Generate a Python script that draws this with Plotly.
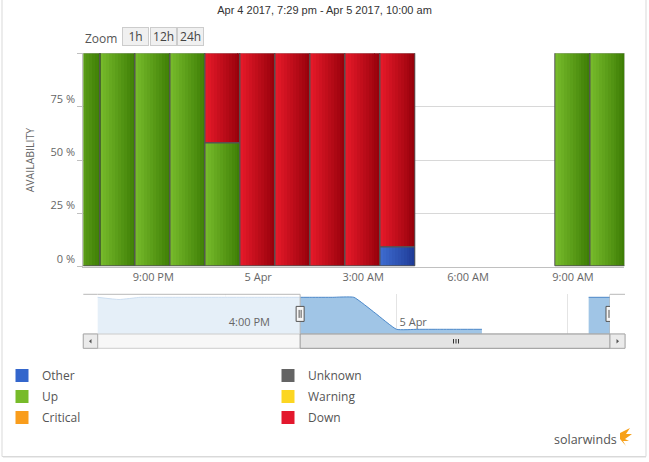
import plotly.graph_objects as go

W, H = 649, 462


def px(x):
    return x / W


def py(y):
    return 1 - y / H


# ---------------- data ----------------
title_text = "Apr 4 2017, 7:29 pm - Apr 5 2017, 10:00 am"

hours = [
    "2017-04-04 19:00", "2017-04-04 20:00", "2017-04-04 21:00", "2017-04-04 22:00",
    "2017-04-04 23:00", "2017-04-05 00:00", "2017-04-05 01:00", "2017-04-05 02:00",
    "2017-04-05 03:00", "2017-04-05 04:00", "2017-04-05 05:00", "2017-04-05 06:00",
    "2017-04-05 07:00", "2017-04-05 08:00", "2017-04-05 09:00", "2017-04-05 10:00",
]
other = [None, None, None, None, None, None, None, None, None, 9, None, None, None, None, None, None]
up = [100, 100, 100, 100, 58, None, None, None, None, None, None, None, None, None, 100, 100]
down = [None, None, None, None, 42, 100, 100, 100, 100, 91, None, None, None, None, None, None]

x_tickvals = ["2017-04-04 21:00", "2017-04-05 00:00", "2017-04-05 03:00",
              "2017-04-05 06:00", "2017-04-05 09:00"]
x_ticktext = ["9:00 PM", "5 Apr", "3:00 AM", "6:00 AM", "9:00 AM"]
y_tickvals = [0, 25, 50, 75, 100]
y_ticktext = ["0 %", "25 %", "50 %", "75 %", ""]
x_range = ["2017-04-04 19:00", "2017-04-05 10:28"]

# navigator (overview) series
nav_times = [
    "2017-04-04 10:00", "2017-04-04 11:00", "2017-04-04 12:00", "2017-04-04 13:00",
    "2017-04-04 14:00", "2017-04-04 15:00", "2017-04-04 16:00", "2017-04-04 17:00",
    "2017-04-04 18:00", "2017-04-04 19:00", "2017-04-04 20:00", "2017-04-04 21:00",
    "2017-04-04 22:00", "2017-04-04 23:00", "2017-04-05 00:00", "2017-04-05 01:00",
    "2017-04-05 02:00", "2017-04-05 03:00", "2017-04-05 04:00", "2017-04-05 05:00",
    "2017-04-05 06:00", "2017-04-05 07:00", "2017-04-05 08:00", "2017-04-05 09:00",
    "2017-04-05 10:00",
]
nav_values = [100, 94, 100, 100, 100, 100, 100, 100, 100, 100, 100, 100, 100, 57,
              12.8, 12.8, 12.8, 12.8, 12.8, None, None, None, None, 100, 100]
nav_range = ["2017-04-04 10:00", "2017-04-05 10:00"]
nav_ymax = 108.2
nav_tickvals = ["2017-04-04 16:00", "2017-04-05 00:00", "2017-04-05 08:00"]
nav_ticktext = ["4:00 PM", "5 Apr", "8:00 AM"]
sel_start, sel_end = "2017-04-04 19:29", "2017-04-05 10:00"

legend_col1 = [("Other", "#3366cc"), ("Up", "#77bb2a"), ("Critical", "#f99d1c")]
legend_col2 = [("Unknown", "#646464"), ("Warning", "#fcd622"), ("Down", "#e3182d")]

zoom_label = "Zoom"
zoom_buttons = ["1h", "12h", "24h"]

# ---------------- styles ----------------
# left (light) and right (dark) colours of each bar's gradient
grad = {
    "Other": ((62, 108, 208), (30, 58, 150)),
    "Up": ((120, 188, 44), (60, 124, 4)),
    "Down": ((232, 26, 42), (148, 0, 10)),
}
N_BANDS = 12
border = dict(color="#555555", width=1)
tick_font = dict(family="Open Sans", size=11, color="#666666")
HOUR_MS = 3600 * 1000

fig = go.Figure()

series = [("Other", other), ("Up", up), ("Down", down)]
stack_base = [0] * len(hours)
bases = {}
for name, vals in series:
    bases[name] = list(stack_base)
    stack_base = [b + (v or 0) for b, v in zip(stack_base, vals)]

# gradient fill drawn as narrow vertical bands
for name, vals in series:
    c0, c1 = grad[name]
    for k in range(N_BANDS):
        f = (k + 0.5) / N_BANDS
        col = "rgb({},{},{})".format(*[round(a + (b - a) * f) for a, b in zip(c0, c1)])
        fig.add_trace(go.Bar(
            x=hours, y=vals, base=bases[name],
            width=HOUR_MS / N_BANDS + 1000, offset=-HOUR_MS / 2 + k * HOUR_MS / N_BANDS,
            marker=dict(color=col, line=dict(width=0)),
            showlegend=False, hoverinfo="skip", xaxis="x", yaxis="y",
        ))
# outlines of each bar segment
for name, vals in series:
    fig.add_trace(go.Bar(
        x=hours, y=vals, base=bases[name], name=name, width=HOUR_MS,
        marker=dict(color="rgba(0,0,0,0)", line=border),
        showlegend=False, xaxis="x", yaxis="y",
    ))

# legend entries
for col, leg in [(legend_col1, "legend"), (legend_col2, "legend2")]:
    for name, color in col:
        fig.add_trace(go.Scatter(
            x=[None], y=[None], mode="markers", name=name,
            marker=dict(symbol="square", size=13, color=color, line=dict(width=0)),
            legend=leg, legendgroup=name, showlegend=True,
            xaxis="x", yaxis="y",
        ))

# navigator series, one trace per continuous segment
segments, cur = [], ([], [])
for t, v in zip(nav_times, nav_values):
    if v is None:
        if cur[0]:
            segments.append(cur)
        cur = ([], [])
    else:
        cur[0].append(t)
        cur[1].append(v)
if cur[0]:
    segments.append(cur)
for sx, sy in segments:
    fig.add_trace(go.Scatter(
        x=sx, y=sy, mode="lines", fill="tozeroy",
        line=dict(color="#4b88c9", width=1, shape="spline", smoothing=0.4),
        fillcolor="#a0c5e6", showlegend=False, xaxis="x2", yaxis="y2",
        hoverinfo="skip",
    ))

# navigator mask over unselected range (white veil)
fig.add_trace(go.Scatter(
    x=[nav_range[0], sel_start, sel_start, nav_range[0], nav_range[0]],
    y=[0, 0, nav_ymax, nav_ymax, 0], mode="lines", fill="toself",
    fillcolor="rgba(255,255,255,0.72)", line=dict(width=0),
    showlegend=False, xaxis="x2", yaxis="y2", hoverinfo="skip",
))

main_x = [px(83.3), px(624.3)]
main_y = [py(266.7), py(53.3)]
nav_x = [px(97.7), px(610)]
nav_y = [py(334), py(294.3)]

legend_common = dict(
    xanchor="left", yanchor="top",
    font=dict(family="Open Sans", size=12, color="#555555"),
    traceorder="grouped", tracegroupgap=2, bgcolor="rgba(0,0,0,0)",
    itemclick=False, itemdoubleclick=False,
)

fig.update_layout(
    width=W, height=H, autosize=False,
    margin=dict(l=0, r=0, t=0, b=0),
    paper_bgcolor="white", plot_bgcolor="white",
    barmode="overlay", bargap=0,
    title=dict(text=title_text, x=0.5, xanchor="center", y=py(10), yanchor="middle",
               font=dict(family="Liberation Sans, Arial", size=11, color="#333333")),
    xaxis=dict(
        type="date", domain=main_x, range=x_range, anchor="y",
        tickvals=x_tickvals, ticktext=x_ticktext, tickfont=tick_font,
        showgrid=False, showline=True, linecolor="#c0c0c0", linewidth=1,
        ticks="", zeroline=False, fixedrange=True,
    ),
    yaxis=dict(
        domain=main_y, range=[0, 100], anchor="x",
        tickvals=y_tickvals, ticktext=y_ticktext, tickfont=tick_font,
        ticks="outside", ticklen=5, tickcolor="#c0c0c0",
        showline=True, linecolor="#c0c0c0", linewidth=1,
        showgrid=True, gridcolor="#d8d8d8", gridwidth=1, zeroline=False,
        ticklabelshift=-8, fixedrange=True,
    ),
    xaxis2=dict(
        type="date", domain=nav_x, range=nav_range, anchor="y2",
        tickvals=nav_tickvals, ticktext=nav_ticktext,
        tickfont=dict(family="Open Sans", size=11, color="#666666"),
        ticklabelposition="inside right", ticks="", ticklabelshift=3,
        showgrid=True, gridcolor="#e4e4e4", gridwidth=1,
        showline=False, zeroline=False, fixedrange=True,
    ),
    yaxis2=dict(domain=nav_y, range=[0, nav_ymax], anchor="x2", visible=False, fixedrange=True),
    legend=dict(x=px(2), y=py(361), **legend_common),
    legend2=dict(x=px(268), y=py(361), **legend_common),
)

shapes = []
# outer frame
shapes.append(dict(type="rect", xref="paper", yref="paper", x0=px(2), x1=px(646),
                   y0=py(456.5), y1=py(-3), line=dict(color="#d9d9d9", width=1)))
shapes.append(dict(type="line", xref="paper", yref="paper", x0=px(3), x1=px(646),
                   y0=py(457.5), y1=py(457.5), line=dict(color="#ededed", width=1)))
# navigator outline
ol = dict(color="#b8b8b8", width=1)
shapes += [
    dict(type="line", xref="paper", yref="paper", x0=px(83.3), x1=px(97.7),
         y0=py(294.3), y1=py(294.3), line=ol),
    dict(type="line", xref="x2", yref="paper", x0=nav_range[0], x1=sel_start,
         y0=py(294.3), y1=py(294.3), line=ol),
    dict(type="line", xref="x2", yref="paper", x0=sel_start, x1=sel_start,
         y0=py(294.3), y1=py(334), line=ol),
    dict(type="line", xref="x2", yref="paper", x0=sel_end, x1=sel_end,
         y0=py(294.3), y1=py(334), line=ol),
    dict(type="line", xref="paper", yref="paper", x0=px(610), x1=px(625),
         y0=py(294.3), y1=py(294.3), line=ol),
]
# scrollbar track
shapes.append(dict(type="rect", xref="paper", yref="paper", x0=px(83.3), x1=px(625),
                   y0=py(348.3), y1=py(334), fillcolor="#f7f7f7", line=dict(color="#cccccc", width=1)))
# scrollbar thumb
shapes.append(dict(type="rect", xref="x2", yref="paper", x0=sel_start, x1=sel_end,
                   y0=py(348.3), y1=py(334), fillcolor="#e4e4e4", line=dict(color="#9a9a9a", width=1)))
# scrollbar buttons
for bx0, bx1 in [(83.3, 97.7), (610, 625)]:
    shapes.append(dict(type="rect", xref="paper", yref="paper", x0=px(bx0), x1=px(bx1),
                       y0=py(348.3), y1=py(334), fillcolor="#ebebeb", line=dict(color="#aaaaaa", width=1)))
# arrows
shapes.append(dict(type="path", xref="paper", yref="paper",
                   path=f"M {px(89)} {py(341.2)} L {px(91.5)} {py(339)} L {px(91.5)} {py(343.4)} Z",
                   fillcolor="#555555", line=dict(width=0)))
shapes.append(dict(type="path", xref="paper", yref="paper",
                   path=f"M {px(619)} {py(341.2)} L {px(616.5)} {py(339)} L {px(616.5)} {py(343.4)} Z",
                   fillcolor="#555555", line=dict(width=0)))
# thumb grip
for dx in (-2.5, 0, 2.5):
    shapes.append(dict(type="line", xref="paper", yref="paper", x0=px(456 + dx), x1=px(456 + dx),
                       y0=py(339), y1=py(343.5), line=dict(color="#333333", width=1)))
# handles
for hx in (sel_start, sel_end):
    shapes.append(dict(type="rect", xref="x2", yref="paper", xsizemode="pixel", ysizemode="pixel",
                       xanchor=hx, yanchor=py(313.9), x0=-4, x1=4, y0=-7.5, y1=7.5,
                       fillcolor="#f6f6f6", line=dict(color="#555555", width=1), layer="above"))
    for dx in (-1, 1):
        shapes.append(dict(type="line", xref="x2", yref="paper", xsizemode="pixel", ysizemode="pixel",
                           xanchor=hx, yanchor=py(313.9), x0=dx, x1=dx, y0=-4, y1=4,
                           line=dict(color="#555555", width=1), layer="above"))
# solarwinds flame
flame = [(620, 433), (630, 428), (626, 434), (632, 434), (625, 439), (629, 441), (623, 441), (626, 446), (620, 439)]
shapes.append(dict(type="path", xref="paper", yref="paper",
                   path="M " + " L ".join(f"{px(a)} {py(b)}" for a, b in flame) + " Z",
                   fillcolor="#f7a11a", line=dict(width=0)))

fig.update_layout(shapes=shapes)

annotations = [
    dict(text=zoom_label, x=px(83), y=py(38.3), xref="paper", yref="paper", xanchor="left",
         yanchor="middle", showarrow=False, font=dict(family="Open Sans", size=12, color="#555555")),
    dict(text="AVAILABILITY", x=px(30), y=py(160.3), xref="paper", yref="paper", textangle=-90,
         xanchor="center", yanchor="middle", showarrow=False,
         font=dict(family="Open Sans", size=10.5, color="#666666")),
    dict(text="solarwinds", x=px(619), y=py(439), xref="paper", yref="paper", xanchor="right",
         yanchor="middle", showarrow=False, font=dict(family="Open Sans", size=12.5, color="#555555")),
]
# zoom buttons as boxed labels
btn_left, btn_w = 122.3, 27.2
for i, lab in enumerate(zoom_buttons):
    annotations.append(dict(
        text=lab, x=px(btn_left + btn_w * (i + 0.5)), y=py(36.7), xref="paper", yref="paper",
        xanchor="center", yanchor="middle", showarrow=False, width=btn_w - 2, height=17,
        bgcolor="#f0f0f0", bordercolor="#cccccc", borderwidth=1, borderpad=0,
        font=dict(family="Open Sans", size=12, color="#444444"),
    ))
fig.update_layout(annotations=annotations)

fig.write_html("out.html", config={"displayModeBar": False, "responsive": False},
               post_script="document.body.style.margin='0';")
